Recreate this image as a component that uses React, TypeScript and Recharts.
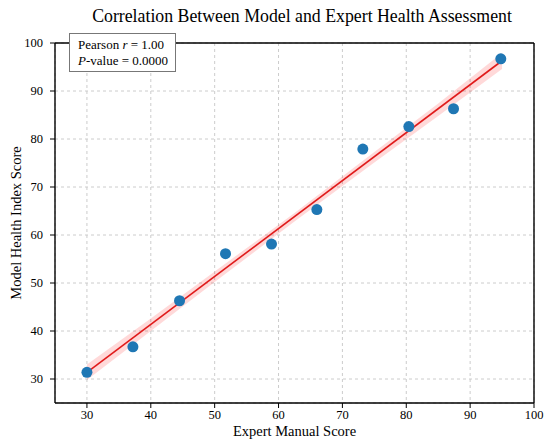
import React from "react";
import {
  ComposedChart,
  Scatter,
  Line,
  Area,
  XAxis,
  YAxis,
  CartesianGrid,
  ReferenceLine,
} from "recharts";

document.body.style.margin = "0";

// expert manual score vs model health index score
const expertScores = [30, 37.2, 44.5, 51.7, 58.9, 66.0, 73.2, 80.4, 87.4, 94.8];
const modelScores = [31.4, 36.7, 46.3, 56.1, 58.1, 65.3, 77.9, 82.6, 86.3, 96.7];

// fitted line end points
const fitX = [30, 95];
const fitY = [31.4, 96.3];

// confidence band edges
const bandX = [30, 40, 50, 62.5, 75, 85, 95];
const bandLow = [29.8, 40.0, 50.2, 62.8, 75.1, 84.8, 94.6];
const bandHigh = [33.0, 42.6, 52.4, 64.6, 77.3, 87.4, 97.9];

const axisTicks = [30, 40, 50, 60, 70, 80, 90, 100];

const points = expertScores.map((x, i) => ({ x, y: modelScores[i] }));
const fitLine = fitX.map((x, i) => ({ x, y: fitY[i] }));
const band = bandX.map((x, i) => ({ x, band: [bandLow[i], bandHigh[i]] }));

const FONT = "'Liberation Serif', 'Times New Roman', serif";
const BLUE = "#1f77b4";
const RED = "#e01b1b";

const Dot = (props: any) => {
  const { cx, cy } = props;
  if (cx == null || cy == null) return null;
  return <circle cx={cx} cy={cy} r={5.5} fill={BLUE} />;
};

export default function App() {
  return (
    <div style={{ position: "relative", width: 550, height: 446, background: "#fff", fontFamily: FONT }}>
      <div
        style={{
          position: "absolute",
          left: 0,
          width: 604,
          top: 4,
          textAlign: "center",
          fontSize: 17.8,
          color: "#000",
          lineHeight: "24px",
        }}
      >
        Correlation Between Model and Expert Health Assessment
      </div>
      <ComposedChart
        width={550}
        height={446}
        data={band}
        margin={{ top: 43, right: 16, bottom: 3, left: 10 }}
      >
        <CartesianGrid stroke="#cccccc" strokeDasharray="3 3" />
        <XAxis
          dataKey="x"
          type="number"
          domain={[25, 100]}
          ticks={axisTicks}
          allowDataOverflow
          height={40}
          tickSize={5}
          tick={{ fill: "#000", fontSize: 12.5, fontFamily: FONT }}
          axisLine={{ stroke: "#000", strokeWidth: 1.4 }}
          tickLine={{ stroke: "#000" }}
          label={{
            value: "Expert Manual Score",
            position: "insideBottom",
            offset: 7,
            fill: "#000",
            fontSize: 14.5,
            fontFamily: FONT,
          }}
        />
        <YAxis
          type="number"
          domain={[25, 100]}
          ticks={axisTicks}
          allowDataOverflow
          width={45}
          tickSize={5}
          tick={{ fill: "#000", fontSize: 12.5, fontFamily: FONT, dx: -5 }}
          axisLine={{ stroke: "#000", strokeWidth: 1.4 }}
          tickLine={{ stroke: "#000" }}
          label={{
            value: "Model Health Index Score",
            angle: -90,
            position: "insideLeft",
            offset: 6,
            fill: "#000",
            fontSize: 14.5,
            fontFamily: FONT,
            style: { textAnchor: "middle" },
          }}
        />
        <ReferenceLine y={100} stroke="#000" strokeWidth={1.4} />
        <ReferenceLine x={100} stroke="#000" strokeWidth={1.4} />
        <Area
          dataKey="band"
          type="linear"
          stroke="none"
          fill="#ff0000"
          fillOpacity={0.15}
          isAnimationActive={false}
        />
        <Line
          data={fitLine}
          dataKey="y"
          type="linear"
          stroke={RED}
          strokeWidth={1.6}
          dot={false}
          activeDot={false}
          isAnimationActive={false}
        />
        <Scatter data={points} dataKey="y" shape={<Dot />} isAnimationActive={false} />
      </ComposedChart>
      <div
        style={{
          position: "absolute",
          left: 69,
          top: 33,
          width: 107,
          height: 39,
          background: "#fff",
          border: "1px solid #777",
          fontSize: 13,
          lineHeight: "16px",
          color: "#000",
          paddingLeft: 8,
          paddingTop: 3,
          boxSizing: "border-box",
          whiteSpace: "nowrap",
        }}
      >
        <div>
          Pearson <i>r</i> = 1.00
        </div>
        <div>
          <i>P</i>-value = 0.0000
        </div>
      </div>
    </div>
  );
}
